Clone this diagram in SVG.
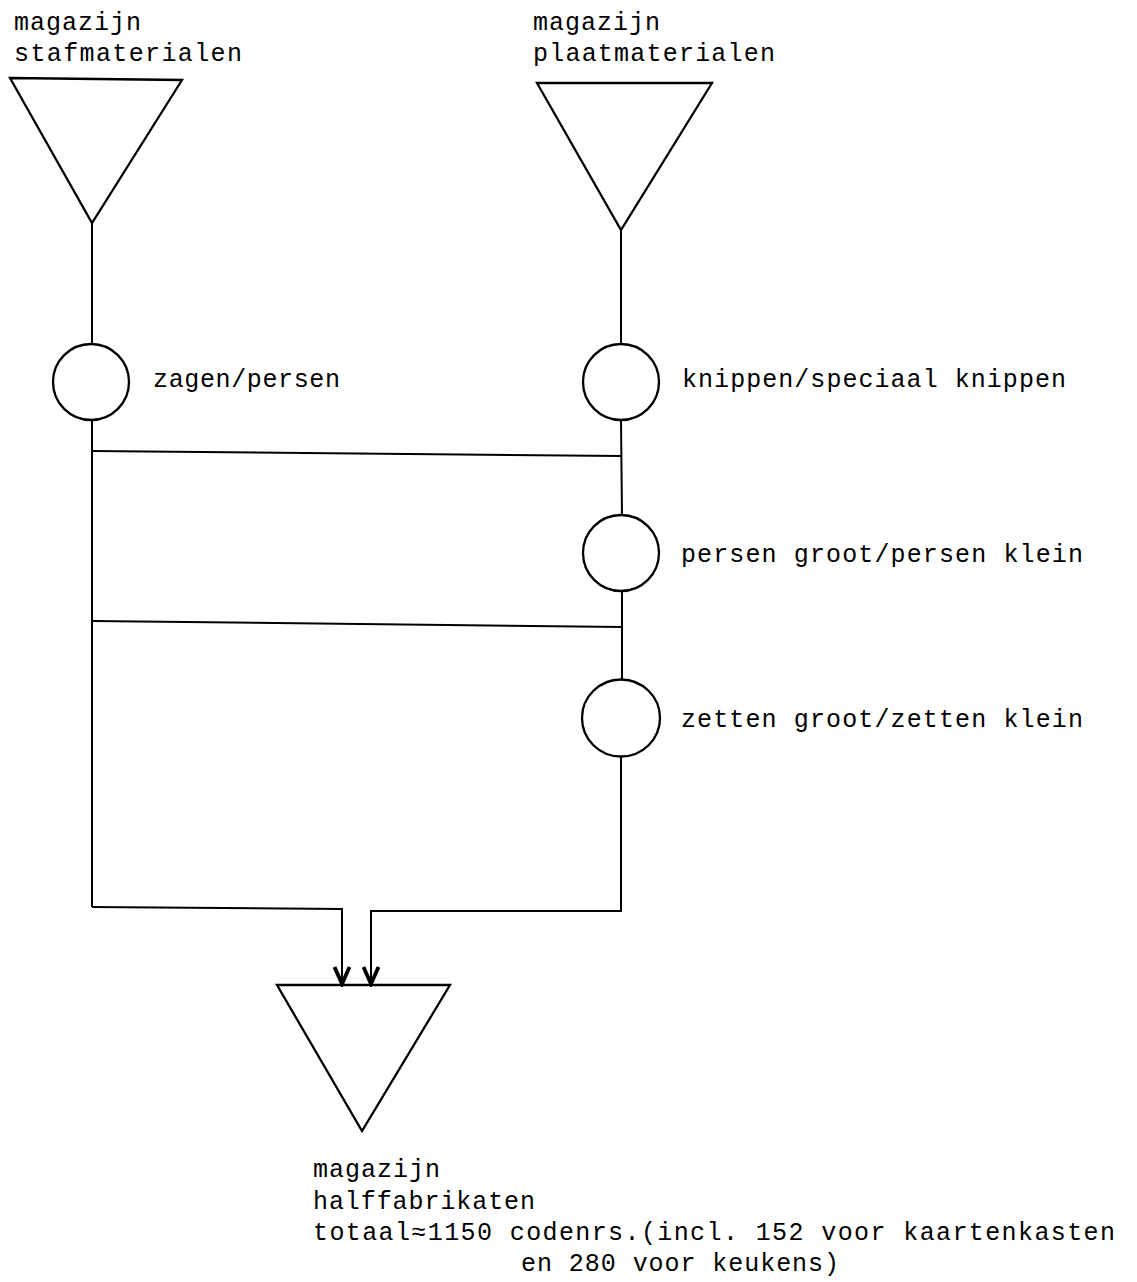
<svg xmlns="http://www.w3.org/2000/svg" width="1137" height="1282" viewBox="0 0 1137 1282">
  <style>
    .shape { fill: none; stroke: #000; stroke-width: 2.3; stroke-linejoin: miter; }
    .line { fill: none; stroke: #000; stroke-width: 2; }
    .mono { font-family: "Liberation Mono", "DejaVu Sans Mono", monospace; font-size: 25px; fill: #000; }
  </style>
  <defs>
    <!-- bold open V arrowhead, drawn along +x so orient="auto" follows the line -->
    <marker id="arrow" markerWidth="22" markerHeight="22" refX="19" refY="11" orient="auto" markerUnits="userSpaceOnUse" viewBox="0 0 22 22">
      <path d="M2,3.5 L19,11 L2,18.5" fill="none" stroke="#000" stroke-width="3.8" stroke-linejoin="miter"/>
    </marker>
  </defs>
  <rect width="1137" height="1282" fill="#fff"/>

  <!-- connectors -->
  <g id="connectors" class="line">
    <line x1="92" y1="223" x2="92" y2="344"/>
    <line x1="621" y1="230" x2="621" y2="344"/>
    <line x1="92" y1="420" x2="92" y2="907"/>
    <line x1="621" y1="420" x2="622" y2="515"/>
    <line x1="92" y1="451" x2="622" y2="456"/>
    <line x1="622" y1="591" x2="622" y2="680"/>
    <line x1="92" y1="621" x2="622" y2="627"/>
    <polyline points="621,757 621,911 371,911 371,984" marker-end="url(#arrow)"/>
    <polyline points="92,907 342,909 342,984" marker-end="url(#arrow)"/>
  </g>

  <!-- storage: bar stock -->
  <g id="store-staf">
    <polygon class="shape" points="10,78 182,80 92,223"/>
    <text class="mono" x="14" y="30" textLength="127" lengthAdjust="spacing">magazijn</text>
    <text class="mono" x="14" y="61" textLength="228" lengthAdjust="spacing">stafmaterialen</text>
  </g>

  <!-- storage: sheet material -->
  <g id="store-plaat">
    <polygon class="shape" points="537,83 712,83 621,230"/>
    <text class="mono" x="533" y="30" textLength="127" lengthAdjust="spacing">magazijn</text>
    <text class="mono" x="533" y="61" textLength="242" lengthAdjust="spacing">plaatmaterialen</text>
  </g>

  <!-- operations -->
  <g id="op-zagen">
    <ellipse class="shape" cx="91" cy="382" rx="38" ry="38"/>
    <text class="mono" x="153" y="387" textLength="187" lengthAdjust="spacing">zagen/persen</text>
  </g>
  <g id="op-knippen">
    <ellipse class="shape" cx="621" cy="382" rx="38" ry="38"/>
    <text class="mono" x="682" y="387" textLength="384" lengthAdjust="spacing">knippen/speciaal knippen</text>
  </g>
  <g id="op-persen">
    <ellipse class="shape" cx="621" cy="553" rx="38" ry="38"/>
    <text class="mono" x="681" y="562" textLength="402" lengthAdjust="spacing">persen groot/persen klein</text>
  </g>
  <g id="op-zetten">
    <ellipse class="shape" cx="621" cy="718" rx="39" ry="38.5"/>
    <text class="mono" x="681" y="727" textLength="402" lengthAdjust="spacing">zetten groot/zetten klein</text>
  </g>

  <!-- storage: semi-finished products -->
  <g id="store-half">
    <polygon class="shape" points="277,985 450,985 362,1131"/>
    <text class="mono" x="313" y="1177" textLength="127" lengthAdjust="spacing">magazijn</text>
    <text class="mono" x="313" y="1209" textLength="222" lengthAdjust="spacing">halffabrikaten</text>
    <text class="mono" x="313" y="1240" textLength="802" lengthAdjust="spacing">totaal≈1150 codenrs.(incl. 152 voor kaartenkasten</text>
    <text class="mono" x="521" y="1271" textLength="318" lengthAdjust="spacing">en 280 voor keukens)</text>
  </g>
</svg>
